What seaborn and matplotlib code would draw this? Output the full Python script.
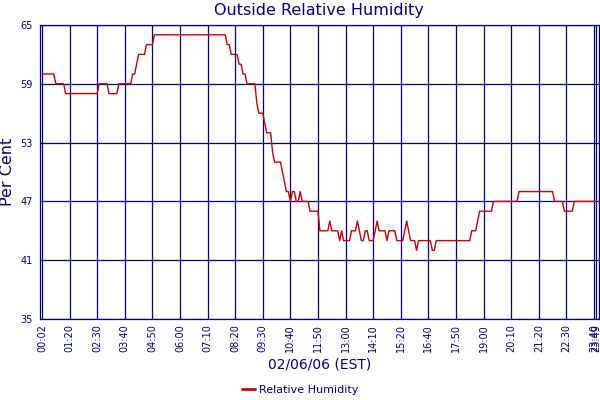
import numpy as np
import pandas as pd
import matplotlib
matplotlib.use('Agg')
import matplotlib.pyplot as plt
import seaborn as sns

# Relative humidity readings (per cent), one row per tick interval (14 samples)
humidity = [
    60, 60, 60, 60, 60, 60, 60, 59, 59, 59, 59, 59, 58, 58,
    58, 58, 58, 58, 58, 58, 58, 58, 58, 58, 58, 58, 58, 58,
    58, 59, 59, 59, 59, 59, 58, 58, 58, 58, 58, 59, 59, 59,
    59, 59, 59, 59, 60, 60, 61, 62, 62, 62, 62, 63, 63, 63,
    63, 64, 64, 64, 64, 64, 64, 64, 64, 64, 64, 64, 64, 64,
    64, 64, 64, 64, 64, 64, 64, 64, 64, 64, 64, 64, 64, 64,
    64, 64, 64, 64, 64, 64, 64, 64, 64, 64, 63, 63, 62, 62,
    62, 62, 61, 61, 60, 60, 59, 59, 59, 59, 59, 57, 56, 56,
    56, 55, 54, 54, 54, 52, 51, 51, 51, 51, 50, 49, 48, 48,
    47, 48, 48, 47, 47, 48, 47, 47, 47, 47, 46, 46, 46, 46,
    46, 44, 44, 44, 44, 44, 45, 44, 44, 44, 44, 43, 44, 43,
    43, 43, 43, 44, 44, 44, 45, 44, 43, 43, 44, 44, 43, 43,
    43, 44, 45, 44, 44, 44, 44, 43, 44, 44, 44, 44, 43, 43,
    43, 43, 44, 45, 44, 43, 43, 43, 42, 43, 43, 43, 43, 43,
    43, 43, 42, 42, 43, 43, 43, 43, 43, 43, 43, 43, 43, 43,
    43, 43, 43, 43, 43, 43, 43, 43, 44, 44, 44, 45, 46, 46,
    46, 46, 46, 46, 46, 47, 47, 47, 47, 47, 47, 47, 47, 47,
    47, 47, 47, 47, 48, 48, 48, 48, 48, 48, 48, 48, 48, 48,
    48, 48, 48, 48, 48, 48, 48, 48, 47, 47, 47, 47, 47, 46,
    46, 46, 46, 46, 47, 47, 47, 47, 47, 47, 47, 47, 47, 47,
    47, 47,
]

tick_labels = ['00:02', '01:20', '02:30', '03:40', '04:50', '06:00', '07:10',
               '08:20', '09:30', '10:40', '11:50', '13:00', '14:10', '15:20',
               '16:40', '17:50', '19:00', '20:10', '21:20', '22:30', '23:40',
               '23:49']
y_ticks = [35, 41, 47, 53, 59, 65]

navy = '#000080'
red = '#cc0000'

sns.set_style('white')
plt.rcParams['font.family'] = ['DejaVu Sans']

df = pd.DataFrame({'sample': np.arange(len(humidity)), 'humidity': humidity})

fig = plt.figure(figsize=(6, 4), dpi=100)
ax = fig.add_axes([40 / 600, 81 / 400, 558.5 / 600, 294 / 400])

sns.lineplot(data=df, x='sample', y='humidity', color=red, lw=1.0,
             ax=ax, label='Relative Humidity', legend=False)

n = len(humidity)
tick_pos = list(range(0, n - 1, 14)) + [n - 1]
ax.set_xticks(tick_pos)
ax.set_xticklabels(tick_labels, rotation=90)
ax.set_yticks(y_ticks)
ax.set_xlim(-1, n + 0.3)
ax.set_ylim(35, 65)

ax.grid(True, color=navy, lw=0.9)
for s in ax.spines.values():
    s.set_color(navy)
    s.set_linewidth(0.9)
ax.tick_params(length=0, colors=navy, labelsize=7)
ax.tick_params(axis='x', pad=3.5)
ax.tick_params(axis='y', pad=5)

ax.set_xlabel('02/06/06 (EST)', fontsize=10, color=navy, labelpad=4)
ax.set_ylabel('Per Cent', fontsize=11.5, color=navy, labelpad=4)
ax.set_title('Outside Relative Humidity', fontsize=11.5, color=navy, pad=7)

handles, labels = ax.get_legend_handles_labels()
leg = fig.legend(handles, labels, loc='center', bbox_to_anchor=(0.5, 0.025),
                 frameon=False, fontsize=8, labelcolor=navy,
                 handlelength=1.2, handletextpad=0.3)
for h in leg.legend_handles:
    h.set_linewidth(2)

fig.savefig('out.png', dpi=100)
